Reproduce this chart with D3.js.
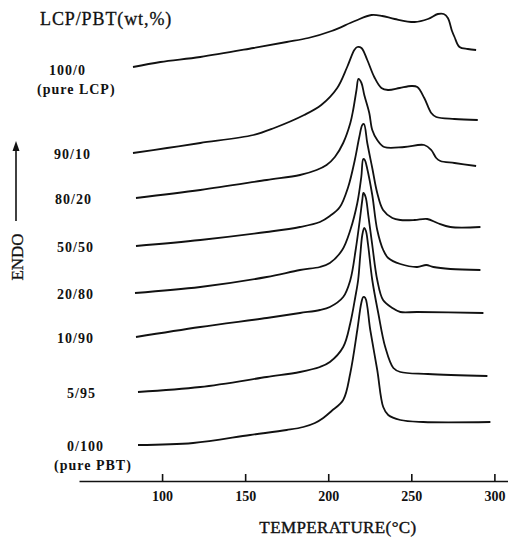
<!doctype html>
<html>

<head>
    <meta charset="UTF-8">
    <title>DSC LCP/PBT</title>
    <script src="https://d3js.org/d3.v7.min.js"></script>
    <style>
        body { margin: 0; background: #fff; }
        text { font-family: "Liberation Serif", "Times New Roman", serif; fill: #111; }
    </style>
</head>

<body>
    <script>
        // blend names, top to bottom
        var blends = ["100/0", "90/10", "80/20", "50/50", "20/80", "10/90", "5/95", "0/100"];
        var subLabels = ["(pure LCP)", "", "", "", "", "", "", "(pure PBT)"];
        var tickValues = [100, 150, 200, 250, 300];

        // [temperature C, heat flow a.u. incl. offset]
        var lcp100 = [[82.5, 41.4], [99, 41.9], [123, 42.4], [155, 43.3], [175, 43.9], [188, 44.3], [202, 45.0],
            [216, 46.0], [226, 46.6], [232.5, 46.5], [240, 46.2], [252, 45.9], [260, 46.2], [266, 46.7],
            [269.5, 46.7], [272, 46.3], [274.5, 45.0], [276, 44.4], [279, 43.4], [284, 43.2], [289, 43.1]];
        var lcp90 = [[82.5, 32.8], [103, 33.3], [123, 33.8], [155, 34.6], [167.5, 35.3], [185.5, 36.6], [195.8, 37.6],
            [205.4, 39.3], [211.4, 41.4], [215.7, 43.1], [217.5, 43.4], [220, 43.3], [223.5, 42.1], [227.7, 40.4],
            [232, 39.3], [236, 39.1], [243, 39.3], [250, 39.5], [253.6, 39.4], [257.8, 38.3], [262, 36.8],
            [265, 36.4], [276, 36.2], [290, 36.1]];
        var lcp80 = [[84.3, 28.3], [123, 29.1], [163, 30.1], [183, 30.6], [193, 31.1], [199, 31.6], [204, 32.4],
            [209, 33.8], [213.3, 35.8], [215, 37.1], [217, 39.1], [218.2, 40.2], [220, 39.8], [221.7, 38.6],
            [224.7, 36.8], [226.5, 35.1], [229.5, 34.1], [233.7, 33.4], [245.8, 33.4], [257.8, 33.6], [262, 33.1],
            [265, 32.3], [267.5, 32.0], [276, 31.8], [289, 31.5]];
        var lcp50 = [[84.3, 23.5], [123, 24.1], [163, 24.9], [183, 25.4], [195, 25.9], [201, 26.5], [207, 27.4],
            [212, 29.4], [216, 32.1], [218.7, 34.4], [220.5, 35.6], [221.5, 35.7], [223.5, 33.8], [226.5, 31.3],
            [229.5, 28.8], [233, 27.1], [238.6, 26.3], [243.4, 26.1], [252, 26.1], [259.6, 26.2], [265.7, 25.8],
            [273.5, 25.4], [291.6, 25.4]];
        var lcp20 = [[83.7, 18.8], [123, 19.4], [163, 20.4], [183, 21.1], [195, 21.4], [201, 21.8], [208.4, 23.1],
            [213.3, 25.1], [217.5, 27.8], [219.9, 30.4], [221.1, 32.2], [222, 32.1], [223.5, 31.2], [226.5, 28.6],
            [229.5, 25.1], [233.1, 23.1], [236.1, 22.3], [243.4, 21.7], [253.6, 21.4], [259, 21.6], [263.3, 21.4],
            [273.5, 21.2], [291.6, 21.1]];
        var lcp10 = [[84.3, 14.4], [123, 15.4], [163, 16.3], [183, 16.8], [195, 17.1], [201, 17.4], [209, 18.4],
            [213.3, 20.1], [216.5, 23.1], [219, 26.1], [220.5, 28.1], [221.2, 28.8], [222.5, 28.4], [224.1, 26.6],
            [226.5, 23.6], [229.5, 20.1], [233, 18.1], [238.6, 17.3], [243.4, 16.9], [253.6, 16.9], [293.4, 16.8]];
        var lcp5 = [[85.5, 8.9], [123, 9.4], [163, 10.4], [183, 10.9], [195, 11.4], [201, 11.9], [209, 13.4],
            [213.3, 15.8], [216.3, 18.4], [218, 20.1], [219.3, 22.6], [220.5, 24.6], [221.7, 25.3], [222.7, 25.0],
            [224, 23.6], [226.5, 20.1], [230.1, 16.8], [234.3, 13.4], [239.2, 11.3], [243.4, 10.9], [260, 10.7],
            [295.8, 10.5]];
        var pbt = [[85.5, 3.6], [118.7, 3.8], [153, 4.6], [175, 5.1], [185, 5.4], [192, 5.8], [197, 6.3], [202, 7.0],
            [209, 8.1], [213.3, 10.8], [217.5, 15.1], [219.9, 17.8], [221.1, 18.4], [222.3, 18.3], [225.3, 15.1],
            [229.5, 11.1], [233.1, 7.4], [236.1, 6.6], [243.4, 6.1], [257.2, 5.9], [297.6, 5.9]];

        var series = [lcp100, lcp90, lcp80, lcp50, lcp20, lcp10, lcp5, pbt];

        // label layout (left edge of each blend label)
        var labelX = [49, 54, 55, 57, 57, 57, 67, 67];
        var subX = [37, 0, 0, 0, 0, 0, 0, 54];

        var w = 508;
        var h = 537;
        var axisY = 481;

        var svg = d3.select("body").append("svg")
            .attr("width", w)
            .attr("height", h);

        var x = d3.scaleLinear().domain([50, 310]).range([79, 511]);
        var y = d3.scaleLinear().domain([0, 48.1]).range([axisY, 0]);

        var line = d3.line()
            .x(function (d) { return x(d[0]); })
            .y(function (d) { return y(d[1]); })
            .curve(d3.curveCatmullRom.alpha(0.5));

        svg.selectAll("path.trace")
            .data(series)
            .enter().append("path")
            .attr("class", "trace")
            .attr("d", line)
            .attr("fill", "none")
            .attr("stroke", "#111")
            .attr("stroke-width", 1.8)
            .attr("stroke-linejoin", "round");

        // blend labels sit at the height where each trace starts
        svg.selectAll("text.blend")
            .data(blends)
            .enter().append("text")
            .attr("class", "blend")
            .attr("x", function (d, i) { return labelX[i]; })
            .attr("y", function (d, i) { return y(series[i][0][1]) + (i == 0 ? 3 : 1); })
            .attr("dy", "0.35em")
            .attr("font-size", 14)
            .attr("font-weight", "bold")
            .attr("letter-spacing", 1)
            .text(function (d) { return d; });

        var subs = subLabels.map(function (s, i) { return { text: s, i: i }; })
            .filter(function (d) { return d.text != ""; });

        svg.selectAll("text.sub")
            .data(subs)
            .enter().append("text")
            .attr("class", "sub")
            .attr("x", function (d) { return subX[d.i]; })
            .attr("y", function (d) { return y(series[d.i][0][1]) + (d.i == 0 ? 22 : 20); })
            .attr("dy", "0.35em")
            .attr("font-size", 14)
            .attr("font-weight", "bold")
            .attr("letter-spacing", 1)
            .text(function (d) { return d.text; });

        svg.append("text")
            .attr("x", 40)
            .attr("y", 19)
            .attr("dy", "0.35em")
            .attr("font-size", 18)
            .attr("letter-spacing", 0.9)
            .attr("stroke", "#111")
            .attr("stroke-width", 0.3)
            .text("LCP/PBT(wt,%)");

        var xAxis = d3.axisBottom(x)
            .tickValues(tickValues)
            .tickSizeInner(-7)
            .tickSizeOuter(0)
            .tickPadding(10);

        var gx = svg.append("g")
            .attr("transform", "translate(0," + axisY + ")")
            .call(xAxis);
        gx.select(".domain").attr("stroke", "#111").attr("stroke-width", 1.7);
        gx.selectAll(".tick line").attr("stroke", "#111").attr("stroke-width", 1.6);
        gx.selectAll(".tick text")
            .attr("font-family", "Liberation Serif, serif")
            .attr("font-size", 14)
            .attr("font-weight", "bold")
            .attr("fill", "#111");

        svg.append("text")
            .attr("x", 338)
            .attr("y", 527)
            .attr("dy", "0.35em")
            .attr("text-anchor", "middle")
            .attr("font-size", 17)
            .attr("letter-spacing", 0.4)
            .attr("stroke", "#111")
            .attr("stroke-width", 0.4)
            .text("TEMPERATURE(\u00B0C)");

        // ENDO arrow
        svg.append("line")
            .attr("x1", 16).attr("y1", 221)
            .attr("x2", 16).attr("y2", 148)
            .attr("stroke", "#111")
            .attr("stroke-width", 1.6);
        svg.append("path")
            .attr("d", "M16,141L12.5,151L19.5,151Z")
            .attr("fill", "#111");

        svg.append("text")
            .attr("transform", "translate(17,257) rotate(-90)")
            .attr("text-anchor", "middle")
            .attr("dy", "0.35em")
            .attr("font-size", 17)
            .attr("stroke", "#111")
            .attr("stroke-width", 0.3)
            .text("ENDO");
    </script>

</body>

</html>
